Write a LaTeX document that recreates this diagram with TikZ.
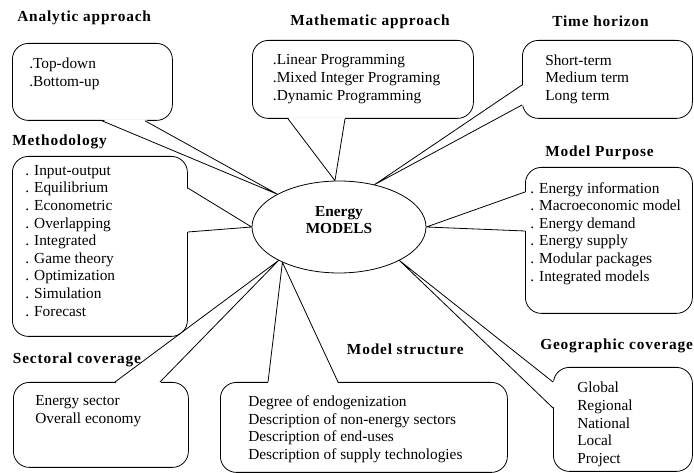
\documentclass[tikz,border=0pt]{standalone}
\usepackage{fontspec}
\setmainfont{Liberation Serif}
\newfontfamily\headfont{Liberation Serif}[LetterSpace=5.5]
\usetikzlibrary{shapes.geometric, positioning, calc}
\tikzset{
  x=0.75pt, y=0.75pt, % one unit is one pixel of the original figure
  every node/.style={font=\fontsize{11.5}{13.2}\selectfont},
  bubble/.style={draw, line width=0.6pt, rounded corners=12pt, inner sep=0pt, anchor=north west}, % the speech bubbles
  items/.style={align=left, inner sep=0pt}, % the lists inside the bubbles
  heading/.style={anchor=base west, inner sep=0pt, font=\headfont\bfseries\fontsize{11.5}{13.2}\selectfont}, % titles above the bubbles
  hub/.style={ellipse, draw, line width=0.6pt, fill=white, minimum width=130.5pt, minimum height=69pt},
  hubtext/.style={align=center, inner sep=0pt, font=\bfseries\fontsize{11.5}{12.75}\selectfont},
  mouth/.style={fill=white}, % hides the bubble border where the pointer opens
  pointer/.style={line width=0.6pt, line join=round},
}

\begin{document}
\begin{tikzpicture}
  \useasboundingbox (0,0) rectangle (694,-473);

  \node[hub] (E) at (339,-227) {};
  \node[hubtext] (E-text) at ([yshift=4.9pt]E.center) {Energy\\MODELS};

  % bubbles
  \node[bubble, minimum width=120pt, minimum height=57.75pt] (ana) at (12,-43) {};
  \node[bubble, minimum width=165.75pt, minimum height=58.5pt] (mat) at (252,-40) {};
  \node[bubble, minimum width=127.5pt, minimum height=58.5pt] (tim) at (522,-40) {};
  \node[bubble, minimum width=131.25pt, minimum height=135pt] (met) at (12,-156) {};
  \node[bubble, minimum width=125.25pt, minimum height=109.5pt] (pur) at (525,-167) {};
  \node[bubble, minimum width=131.25pt, minimum height=63.75pt] (sec) at (13,-382) {};
  \node[bubble, minimum width=215.25pt, minimum height=67.5pt] (str) at (220,-382) {};
  \node[bubble, minimum width=104.25pt, minimum height=78pt] (geo) at (553,-367) {};

  % headings
  \node[heading] (ana-head) at (17,-22) {Analytic approach};
  \node[heading] (mat-head) at (290,-26) {Mathematic approach};
  \node[heading] (tim-head) at (552,-26.7) {Time horizon};
  \node[heading] (met-head) at (12,-146) {Methodology};
  \node[heading] (pur-head) at (545,-156.7) {Model Purpose};
  \node[heading] (sec-head) at (12.7,-363.3) {Sectoral coverage};
  \node[heading] (str-head) at (346.7,-355) {Model structure};
  \node[heading] (geo-head) at (540,-349.3) {Geographic coverage};

  % lists
  \node[items, below right=14.8 and 17 of ana.north west] (ana-list) {.Top-down\\.Bottom-up};
  \node[items, below right=14.5 and 20.7 of mat.north west] (mat-list) {.Linear Programming\\.Mixed Integer Programing\\.Dynamic Programming};
  \node[items, below right=14.5 and 23 of tim.north west] (tim-list) {Short-term\\Medium term\\Long term};
  \node[items, below right=9 and 13 of met.north west] (met-list) {. Input-output\\. Equilibrium\\. Econometric\\. Overlapping\\. Integrated\\. Game theory\\. Optimization\\. Simulation\\. Forecast};
  \node[items, below right=15 and 5 of pur.north west] (pur-list) {. Energy information\\. Macroeconomic model\\. Energy demand\\. Energy supply\\. Modular packages\\. Integrated models};
  \node[items, below right=13.5 and 22 of sec.north west] (sec-list) {Energy sector\\Overall economy};
  \node[items, below right=13.5 and 28 of str.north west] (str-list) {Degree of endogenization\\Description of non-energy sectors\\Description of end-uses\\Description of supply technologies};
  \node[items, below right=15 and 24 of geo.north west] (geo-list) {Global\\Regional\\National\\Local\\Project};

  % pointers from the bubbles to the ellipse
  \coordinate (ana-l) at ($(ana.south west)+(90,0)$);
  \coordinate (ana-r) at ($(ana.south west)+(133,0)$);
  \fill[mouth] ([yshift=1pt]ana-l) -- (E.152) -- ([yshift=1pt]ana-r) -- cycle;
  \draw[pointer] (ana-l) -- (E.152) -- (ana-r);

  \coordinate (mat-l) at ($(mat.south west)+(36,0)$);
  \coordinate (mat-r) at ($(mat.south west)+(93,0)$);
  \fill[mouth] ([yshift=1pt]mat-l) -- (E.95) -- ([yshift=1pt]mat-r) -- cycle;
  \draw[pointer] (mat-l) -- (E.95) -- (mat-r);

  \coordinate (tim-t) at ($(tim.north west)+(0,-45)$);
  \coordinate (tim-b) at ($(tim.north west)+(0,-65)$);
  \fill[mouth] ([xshift=1pt]tim-t) -- (E.50) -- ([xshift=1pt]tim-b) -- cycle;
  \draw[pointer] (tim-t) -- (E.50) -- (tim-b);

  \coordinate (met-t) at ($(met.north east)+(0,-32)$);
  \coordinate (met-b) at ($(met.north east)+(0,-76)$);
  \fill[mouth] ([xshift=-1pt]met-t) -- (E.180) -- ([xshift=-1pt]met-b) -- cycle;
  \draw[pointer] (met-t) -- (E.180) -- (met-b);

  \coordinate (pur-t) at ($(pur.north west)+(0,-25)$);
  \coordinate (pur-b) at ($(pur.north west)+(0,-64)$);
  \fill[mouth] ([xshift=1pt]pur-t) -- (E.0) -- ([xshift=1pt]pur-b) -- cycle;
  \draw[pointer] (pur-t) -- (E.0) -- (pur-b);

  \coordinate (sec-l) at ($(sec.north west)+(102,0)$);
  \coordinate (sec-r) at ($(sec.north west)+(147,0)$);
  \fill[mouth] ([yshift=-1pt]sec-l) -- (E.209) -- ([yshift=-1pt]sec-r) -- cycle;
  \draw[pointer] (sec-l) -- (E.209) -- (sec-r);

  \coordinate (str-l) at ($(str.north west)+(48,0)$);
  \coordinate (str-r) at ($(str.north west)+(118,0)$);
  \fill[mouth] ([yshift=-1pt]str-l) -- (E.212) -- ([yshift=-1pt]str-r) -- cycle;
  \draw[pointer] (str-l) -- (E.212) -- (str-r);

  \coordinate (geo-t) at ($(geo.north west)+(0,-15)$);
  \coordinate (geo-b) at ($(geo.north west)+(0,-41)$);
  \fill[mouth] ([xshift=1pt]geo-t) -- (E.331) -- ([xshift=1pt]geo-b) -- cycle;
  \draw[pointer] (geo-t) -- (E.331) -- (geo-b);
\end{tikzpicture}
\end{document}
